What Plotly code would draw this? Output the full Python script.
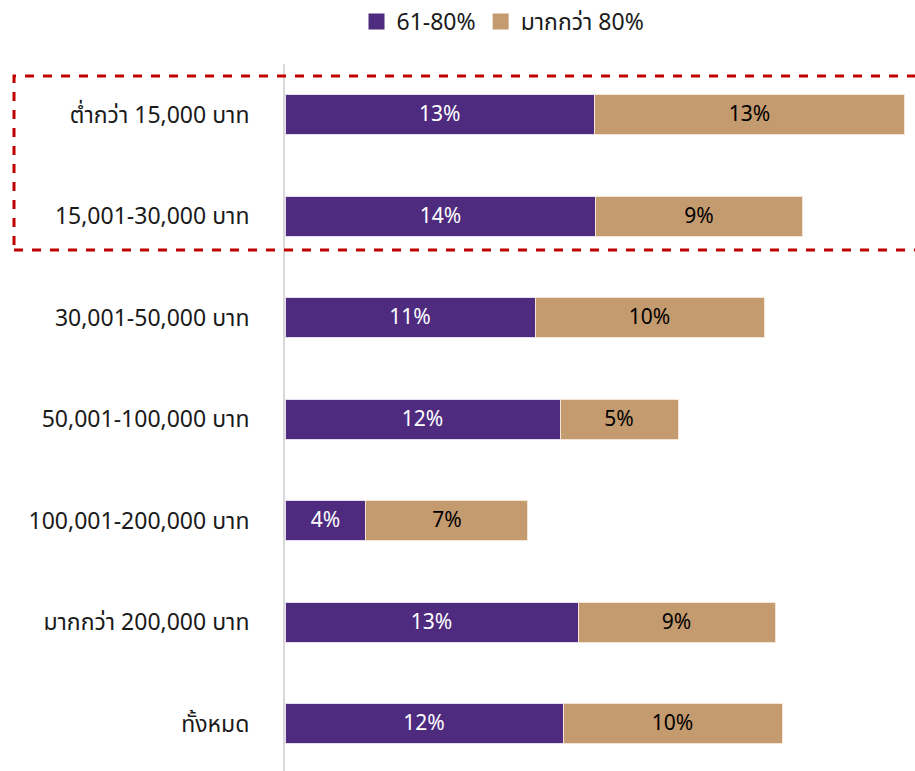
import plotly.graph_objects as go

categories = ["ต่ำกว่า 15,000 บาท", "15,001-30,000 บาท", "30,001-50,000 บาท",
              "50,001-100,000 บาท", "100,001-200,000 บาท", "มากกว่า 200,000 บาท", "ทั้งหมด"]
series_names = ["61-80%", "มากกว่า 80%"]
pct_61_80 = [13.45, 13.52, 10.87, 11.96, 3.52, 12.74, 12.09]
pct_over_80 = [13.48, 8.96, 9.96, 5.13, 7.04, 8.57, 9.52]

PURPLE = "#4E2B7F"
TAN = "#C49A6F"
FONT = "Noto Sans Thai, Leelawadee UI, Tahoma, Noto Sans, sans-serif"

W, H = 915, 771
L, R, T, B = 285, 0, 64, 0

fig = go.Figure()
fig.add_trace(go.Bar(
    y=categories, x=pct_61_80, name=series_names[0], orientation="h",
    marker=dict(color=PURPLE, line=dict(color="#E6DDF0", width=1)),
    texttemplate="%{x:.0f}%", textposition="inside", insidetextanchor="middle",
    textangle=0, constraintext="none",
    textfont=dict(color="white", size=21, family=FONT), width=0.39,
    showlegend=False,
))
fig.add_trace(go.Bar(
    y=categories, x=pct_over_80, name=series_names[1], orientation="h",
    marker=dict(color=TAN, line=dict(color="#F3E6D8", width=1)),
    texttemplate="%{x:.0f}%", textposition="inside", insidetextanchor="middle",
    textangle=0, constraintext="none",
    textfont=dict(color="black", size=21, family=FONT), width=0.39,
    showlegend=False,
))
# legend entries with larger square swatches
for name, col in zip(series_names, [PURPLE, TAN]):
    fig.add_trace(go.Scatter(
        x=[None], y=[None], mode="markers", name=name,
        marker=dict(symbol="square", size=21, color=col), showlegend=True,
    ))

plot_w = W - L - R
plot_h = H - T - B
xmax = plot_w / 23.0

def px_to_paper_x(px):
    return (px - L) / plot_w

def px_to_paper_y(py):
    return (H - B - py) / plot_h

fig.add_shape(type="rect", xref="paper", yref="paper",
              x0=px_to_paper_x(14), x1=px_to_paper_x(918),
              y0=px_to_paper_y(250), y1=px_to_paper_y(76),
              line=dict(color="#C00000", width=3, dash="dash"),
              fillcolor="rgba(0,0,0,0)", layer="above")

fig.update_layout(
    width=W, height=H,
    margin=dict(l=L, r=R, t=T, b=B, pad=0),
    barmode="stack",
    plot_bgcolor="white", paper_bgcolor="white",
    font=dict(family=FONT, size=22, color="#1a1a1a"),
    showlegend=True,
    legend=dict(orientation="h", x=(503 - L) / plot_w, xanchor="center",
                y=1.0, yanchor="top", yref="container",
                font=dict(size=23, family=FONT), itemwidth=30,
                traceorder="normal", itemsizing="trace"),
)
fig.update_xaxes(range=[0, xmax], showticklabels=False, showgrid=False,
                 zeroline=False, showline=False, fixedrange=True)
fig.update_yaxes(range=[6.466, -0.5], showgrid=False, zeroline=False,
                 showline=True, linecolor="#D9D9D9", linewidth=2,
                 ticks="", ticklabelstandoff=29,
                 tickfont=dict(size=23, family=FONT, color="#1a1a1a"))

fig.write_html("out.html")
